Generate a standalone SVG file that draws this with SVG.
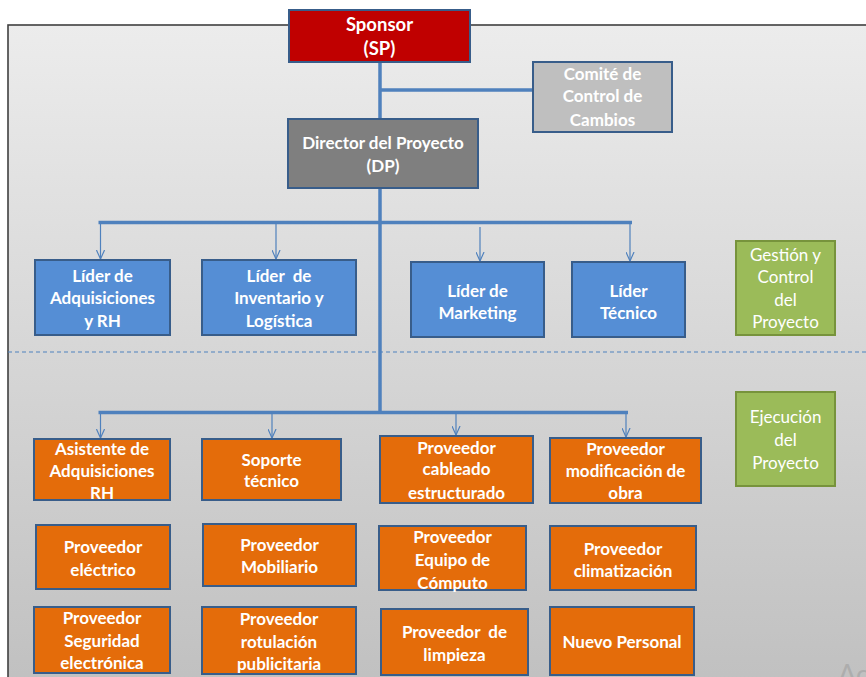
<svg xmlns="http://www.w3.org/2000/svg" width="866" height="677" viewBox="0 0 866 677">
<defs>
<linearGradient id="bg" x1="0" y1="0" x2="0" y2="1">
<stop offset="0" stop-color="#ececec"/>
<stop offset="1" stop-color="#bfbfbf"/>
</linearGradient>
<marker id="arr" viewBox="0 0 10 10" refX="10" refY="5" markerWidth="9" markerHeight="9" markerUnits="userSpaceOnUse" orient="auto">
<path d="M0,0.5 L10,5 L0,9.5" fill="none" stroke="#4f81bd" stroke-width="1.3"/>
</marker>
</defs>
<style>
.box{stroke:#385d8a;stroke-width:2}
.red{fill:#c00000}
.lg{fill:#bfbfbf}
.dg{fill:#7f7f7f}
.blue{fill:#558ed5}
.or{fill:#e46c0a}
.gr{fill:#9bbb59;stroke:#77933c;stroke-width:2}
.t{font-family:Lato,"Liberation Sans",sans-serif;font-weight:bold;font-size:17px;fill:#ffffff;text-anchor:middle}
.tn{font-family:Lato,"Liberation Sans",sans-serif;font-weight:normal;font-size:17px;fill:#ffffff;text-anchor:middle}
.sp{font-size:18.5px}
.main{stroke:#4f81bd;stroke-width:3.5;fill:none}
.arw{stroke:#4f81bd;stroke-width:1.2;fill:none;marker-end:url(#arr)}
</style>
<rect x="8" y="25" width="880" height="680" fill="url(#bg)" stroke="#404040" stroke-width="1.6"/>
<line x1="8" y1="352" x2="866" y2="352" stroke="#4f81bd" stroke-width="1.2" stroke-dasharray="4,3"/>
<text x="838" y="684" font-family="Lato,'Liberation Sans',sans-serif" font-size="27" fill="#adadad">Ac</text>
<g id="connectors">
<line class="main" x1="380" y1="62" x2="380" y2="119"/>
<line class="main" x1="380" y1="90" x2="533" y2="90"/>
<line class="main" x1="380" y1="188" x2="380" y2="414"/>
<line class="main" x1="98.5" y1="222.5" x2="632" y2="222.5"/>
<line class="arw" x1="100.5" y1="222" x2="100.5" y2="259"/>
<line class="arw" x1="276" y1="222" x2="276" y2="259"/>
<line class="arw" x1="480" y1="227" x2="480" y2="261"/>
<line class="arw" x1="630" y1="222" x2="630" y2="261"/>
<line class="main" x1="98.5" y1="412.5" x2="628" y2="412.5"/>
<line class="arw" x1="100.5" y1="412" x2="100.5" y2="438"/>
<line class="arw" x1="272" y1="412" x2="272" y2="438"/>
<line class="arw" x1="456" y1="412" x2="456" y2="435"/>
<line class="arw" x1="626" y1="412" x2="626" y2="437"/>
</g>
<g id="sponsor"><rect class="box red" x="289" y="10" width="181" height="52"/><text class="t sp" x="379.5" y="31">Sponsor</text><text class="t sp" x="379.5" y="55">(SP)</text></g>
<g id="comite"><rect class="box lg" x="533" y="62" width="139" height="70"/><text class="t" x="602.5" y="80">Comité de</text><text class="t" x="602.5" y="102">Control de</text><text class="t" x="602.5" y="126">Cambios</text></g>
<g id="director"><rect class="box dg" x="288" y="119" width="190" height="69"/><text class="t" x="383" y="149">Director del Proyecto</text><text class="t" x="383" y="172">(DP)</text></g>
<g id="lider-adq"><rect class="box blue" x="35" y="260" width="135" height="75"/><text class="t" x="102.5" y="282">Líder de</text><text class="t" x="102.5" y="304">Adquisiciones</text><text class="t" x="102.5" y="327">y RH</text></g>
<g id="lider-inv"><rect class="box blue" x="202" y="260" width="154" height="75"/><text class="t" x="279" y="282" xml:space="preserve">Líder  de</text><text class="t" x="279" y="304">Inventario y</text><text class="t" x="279" y="327">Logística</text></g>
<g id="lider-mkt"><rect class="box blue" x="411" y="262" width="133" height="75"/><text class="t" x="477.5" y="297">Líder de</text><text class="t" x="477.5" y="319">Marketing</text></g>
<g id="lider-tec"><rect class="box blue" x="572" y="262" width="113" height="75"/><text class="t" x="628.5" y="297">Líder</text><text class="t" x="628.5" y="319">Técnico</text></g>
<g id="gestion"><rect class="gr" x="736" y="241" width="99" height="94"/><text class="tn" x="785.5" y="261">Gestión y</text><text class="tn" x="785.5" y="283">Control</text><text class="tn" x="785.5" y="306">del</text><text class="tn" x="785.5" y="328">Proyecto</text></g>
<g id="asistente"><rect class="box or" x="34" y="439" width="136" height="61"/><text class="t" x="102" y="455">Asistente de</text><text class="t" x="102" y="477">Adquisiciones</text><text class="t" x="102" y="499">RH</text></g>
<g id="soporte"><rect class="box or" x="202" y="439" width="139" height="61"/><text class="t" x="271.5" y="466">Soporte</text><text class="t" x="271.5" y="487">técnico</text></g>
<g id="cableado"><rect class="box or" x="380" y="436" width="153" height="67"/><text class="t" x="456.5" y="454">Proveedor</text><text class="t" x="456.5" y="475">cableado</text><text class="t" x="456.5" y="499">estructurado</text></g>
<g id="modificacion"><rect class="box or" x="550" y="438" width="151" height="65"/><text class="t" x="625.5" y="455">Proveedor</text><text class="t" x="625.5" y="477">modificación de</text><text class="t" x="625.5" y="499">obra</text></g>
<g id="ejecucion"><rect class="gr" x="736" y="392" width="99" height="94"/><text class="tn" x="785.5" y="423">Ejecución</text><text class="tn" x="785.5" y="446">del</text><text class="tn" x="785.5" y="469">Proyecto</text></g>
<g id="electrico"><rect class="box or" x="36" y="525" width="134" height="64"/><text class="t" x="103" y="553">Proveedor</text><text class="t" x="103" y="576">eléctrico</text></g>
<g id="mobiliario"><rect class="box or" x="203" y="524" width="153" height="62"/><text class="t" x="279.5" y="551">Proveedor</text><text class="t" x="279.5" y="573">Mobiliario</text></g>
<g id="computo"><rect class="box or" x="379" y="526" width="147" height="64"/><text class="t" x="452.5" y="543">Proveedor</text><text class="t" x="452.5" y="566">Equipo de</text><text class="t" x="452.5" y="589">Cómputo</text></g>
<g id="climatizacion"><rect class="box or" x="550" y="526" width="146" height="64"/><text class="t" x="623" y="555">Proveedor</text><text class="t" x="623" y="577">climatización</text></g>
<g id="seguridad"><rect class="box or" x="34" y="607" width="136" height="66"/><text class="t" x="102" y="624">Proveedor</text><text class="t" x="102" y="647">Seguridad</text><text class="t" x="102" y="669">electrónica</text></g>
<g id="rotulacion"><rect class="box or" x="202" y="607" width="154" height="67"/><text class="t" x="279" y="625">Proveedor</text><text class="t" x="279" y="648">rotulación</text><text class="t" x="279" y="670">publicitaria</text></g>
<g id="limpieza"><rect class="box or" x="381" y="609" width="147" height="66"/><text class="t" x="454.5" y="638" xml:space="preserve">Proveedor  de</text><text class="t" x="454.5" y="661">limpieza</text></g>
<g id="nuevo-personal"><rect class="box or" x="550" y="607" width="144" height="68"/><text class="t" x="622" y="648">Nuevo Personal</text></g>
</svg>
